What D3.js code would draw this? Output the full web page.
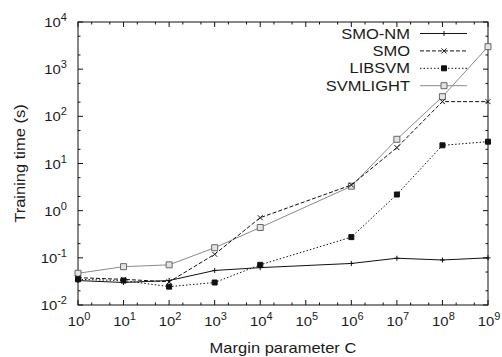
<!DOCTYPE html>
<html>
<head>
<meta charset="utf-8">
<script src="https://cdn.jsdelivr.net/npm/d3@7"></script>
<style>
  body { margin: 0; background: #fff; }
  text { font-family: "Liberation Sans", Arial, sans-serif; fill: #1a1a1a; }
</style>
</head>
<body>
<svg width="502" height="357"></svg>
<script>
// exponents of C (x = 10^e)
var cExp = [0, 1, 2, 3, 4, 6, 7, 8, 9];
var smoNM    = [0.033, 0.030, 0.033, 0.054, 0.062, 0.076, 0.098, 0.090, 0.100];
var smo      = [0.038, 0.035, 0.031, 0.119, 0.71, 3.5, 21.7, 205, 205];
var libsvm   = [0.035, 0.033, 0.0245, 0.030, 0.071, 0.275, 2.2, 24.3, 29];
var svmlight = [0.047, 0.065, 0.071, 0.164, 0.44, 3.3, 32.6, 261, 3000];
var seriesNames = ['SMO-NM', 'SMO', 'LIBSVM', 'SVMLIGHT'];
var xTickExp = [0, 1, 2, 3, 4, 5, 6, 7, 8, 9];
var yTickExp = [-2, -1, 0, 1, 2, 3, 4];

var margin = {top: 22, right: 14, bottom: 52, left: 78};
var W = 502, H = 357;
var svg = d3.select('svg');
var x = d3.scaleLog().domain([1, 1e9]).range([margin.left, W - margin.right]);
var y = d3.scaleLog().domain([1e-2, 1e4]).range([H - margin.bottom, margin.top]);

var styles = {
  'SMO-NM':   {data: smoNM,    color: '#111', dash: null,  marker: 'plus'},
  'SMO':      {data: smo,      color: '#111', dash: '4,2', marker: 'cross'},
  'LIBSVM':   {data: libsvm,   color: '#111', dash: '1.5,2', marker: 'fsquare'},
  'SVMLIGHT': {data: svmlight, color: '#8a8a8a', dash: null, marker: 'osquare'}
};

function markerPath(type) {
  if (type == 'plus') return 'M-2.5,0H2.5M0,-2.5V2.5';
  if (type == 'cross') return 'M-2.5,-2.5L2.5,2.5M-2.5,2.5L2.5,-2.5';
  if (type == 'fsquare') return 'M-2.5,-2.5H2.5V2.5H-2.5Z';
  return 'M-3,-3H3V3H-3Z';
}
function markerFill(s) {
  return s.marker == 'fsquare' ? '#111' : (s.marker == 'osquare' ? '#e4e4e4' : 'none');
}
function markerStroke(s) {
  return s.marker == 'osquare' ? '#666' : s.color;
}

// minor/major ticks, mirrored on all four sides
var minorX = [], minorY = [];
xTickExp.forEach(function(e) { if (e < 9) { minorX.push(2 * Math.pow(10, e)); minorX.push(5 * Math.pow(10, e)); } });
yTickExp.forEach(function(e) { if (e < 4) { minorY.push(2 * Math.pow(10, e)); minorY.push(5 * Math.pow(10, e)); } });

var axes = svg.append('g').attr('stroke', '#111').attr('stroke-width', 1);
function xt(v, len) {
  axes.append('line').attr('x1', x(v)).attr('x2', x(v)).attr('y1', H - margin.bottom).attr('y2', H - margin.bottom - len);
  axes.append('line').attr('x1', x(v)).attr('x2', x(v)).attr('y1', margin.top).attr('y2', margin.top + len);
}
function yt(v, len) {
  axes.append('line').attr('y1', y(v)).attr('y2', y(v)).attr('x1', margin.left).attr('x2', margin.left + len);
  axes.append('line').attr('y1', y(v)).attr('y2', y(v)).attr('x1', W - margin.right).attr('x2', W - margin.right - len);
}
xTickExp.forEach(function(e) { xt(Math.pow(10, e), 5); });
minorX.forEach(function(v) { xt(v, 2.5); });
yTickExp.forEach(function(e) { yt(Math.pow(10, e), 5); });
minorY.forEach(function(v) { yt(v, 2.5); });
axes.append('rect')
  .attr('x', margin.left).attr('y', margin.top)
  .attr('width', W - margin.left - margin.right).attr('height', H - margin.top - margin.bottom)
  .attr('fill', 'none');

// tick labels
function powLabel(sel, e) {
  sel.append('tspan').text('10');
  sel.append('tspan').attr('dy', -6).style('font-size', '10px').text(e);
}
xTickExp.forEach(function(e) {
  var t = svg.append('text').attr('class', 'stretch').attr('x', x(Math.pow(10, e)) + 1).attr('y', 326)
    .attr('text-anchor', 'middle').style('font-size', '13.5px');
  powLabel(t, e);
});
yTickExp.forEach(function(e) {
  var t = svg.append('text').attr('class', 'stretch').attr('x', 67).attr('y', y(Math.pow(10, e)) + 5)
    .attr('text-anchor', 'end').style('font-size', '13.5px');
  powLabel(t, e);
});

svg.append('text').attr('class', 'stretch').attr('x', 283).attr('y', 353)
  .attr('text-anchor', 'middle').style('font-size', '15px').text('Margin parameter C');
svg.append('text').attr('class', 'stretch')
  .attr('transform', 'translate(25,' + ((margin.top + H - margin.bottom) / 2) + ') rotate(-90)')
  .attr('text-anchor', 'middle').style('font-size', '15px').text('Training time (s)');

// series
var line = d3.line().x(function(d) { return x(Math.pow(10, d[0])); }).y(function(d) { return y(d[1]); });
['SVMLIGHT', 'LIBSVM', 'SMO', 'SMO-NM'].forEach(function(name) {
  var s = styles[name];
  var pts = cExp.map(function(e, i) { return [e, s.data[i]]; });
  svg.append('path').datum(pts).attr('d', line)
    .attr('fill', 'none').attr('stroke', s.color).attr('stroke-width', 1)
    .attr('stroke-dasharray', s.dash);
  svg.selectAll(null).data(pts).enter().append('path')
    .attr('transform', function(d) { return 'translate(' + x(Math.pow(10, d[0])) + ',' + y(d[1]) + ')'; })
    .attr('d', markerPath(s.marker))
    .attr('fill', markerFill(s))
    .attr('stroke', markerStroke(s)).attr('stroke-width', 1);
});

// legend
var leg = svg.append('g');
seriesNames.forEach(function(name, i) {
  var s = styles[name];
  var ly = 33.5 + i * 17.4;
  leg.append('text').attr('class', 'stretch').attr('x', 410).attr('y', ly + 5)
    .attr('text-anchor', 'end').style('font-size', '15px').text(name);
  leg.append('line').attr('x1', 420).attr('x2', 467).attr('y1', ly).attr('y2', ly)
    .attr('stroke', s.color).attr('stroke-width', 1).attr('stroke-dasharray', s.dash);
  leg.append('path').attr('transform', 'translate(444,' + ly + ')').attr('d', markerPath(s.marker))
    .attr('fill', markerFill(s))
    .attr('stroke', markerStroke(s)).attr('stroke-width', 1);
});

// the original lettering is a bit wider than Arial metrics
svg.selectAll('text.stretch').each(function() {
  var w = this.getComputedTextLength();
  d3.select(this).attr('textLength', w * 1.1).attr('lengthAdjust', 'spacingAndGlyphs');
});
</script>
</body>
</html>
